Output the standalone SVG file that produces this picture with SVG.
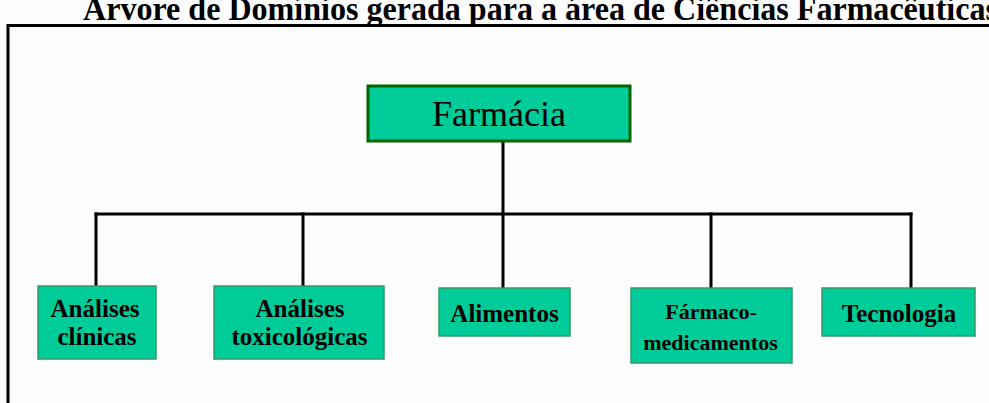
<svg xmlns="http://www.w3.org/2000/svg" width="989" height="403" viewBox="0 0 989 403">
<style>
.bg{fill:#fdfdfd}
.frame{fill:none;stroke:#000;stroke-width:3}
.title{font-family:"Liberation Serif",serif;font-weight:bold;font-size:33px;fill:#000}
.root{fill:#00cc99;stroke:#006600;stroke-width:3}
.leaf{fill:#00cc99;stroke:#339966;stroke-width:1.5}
.rt{font-family:"Liberation Serif",serif;font-size:36px;fill:#000;text-anchor:middle}
.lt{font-family:"Liberation Serif",serif;font-weight:bold;font-size:25px;fill:#000;text-anchor:middle}
.lt2{font-family:"Liberation Serif",serif;font-weight:bold;font-size:22px;fill:#000;text-anchor:middle}
.conn{fill:none;stroke:#000;stroke-width:3;stroke-linecap:square}
</style>
<rect class="bg" x="0" y="0" width="989" height="403"/>
<text class="title" x="83" y="20" textLength="915" lengthAdjust="spacingAndGlyphs">Árvore de Domínios gerada para a área de Ciências Farmacêuticas</text>
<path class="frame" d="M8 403 V25.5 H995"/>
<g id="connectors">
<path class="conn" d="M503 142 V214"/>
<path class="conn" d="M96 214 H911"/>
<path class="conn" d="M96 214 V286"/>
<path class="conn" d="M303 214 V286"/>
<path class="conn" d="M503 214 V287"/>
<path class="conn" d="M711 214 V287"/>
<path class="conn" d="M911 214 V287"/>
</g>
<g id="farmacia">
<rect class="root" x="368" y="86" width="262" height="55"/>
<text class="rt" x="499" y="126">Farmácia</text>
</g>
<g id="analises-clinicas">
<rect class="leaf" x="38" y="286" width="118" height="73"/>
<text class="lt" x="95" y="317">Análises</text>
<text class="lt" x="97" y="345">clínicas</text>
</g>
<g id="analises-toxicologicas">
<rect class="leaf" x="214" y="286" width="170" height="73"/>
<text class="lt" x="300" y="317">Análises</text>
<text class="lt" x="299.5" y="345">toxicológicas</text>
</g>
<g id="alimentos">
<rect class="leaf" x="439" y="288" width="131" height="48"/>
<text class="lt" x="504.5" y="322">Alimentos</text>
</g>
<g id="farmaco-medicamentos">
<rect class="leaf" x="631" y="288" width="161" height="75"/>
<text class="lt2" x="711" y="319">Fármaco-</text>
<text class="lt2" x="710.5" y="350">medicamentos</text>
</g>
<g id="tecnologia">
<rect class="leaf" x="822" y="288" width="153" height="48"/>
<text class="lt" x="899" y="322">Tecnologia</text>
</g>
</svg>
